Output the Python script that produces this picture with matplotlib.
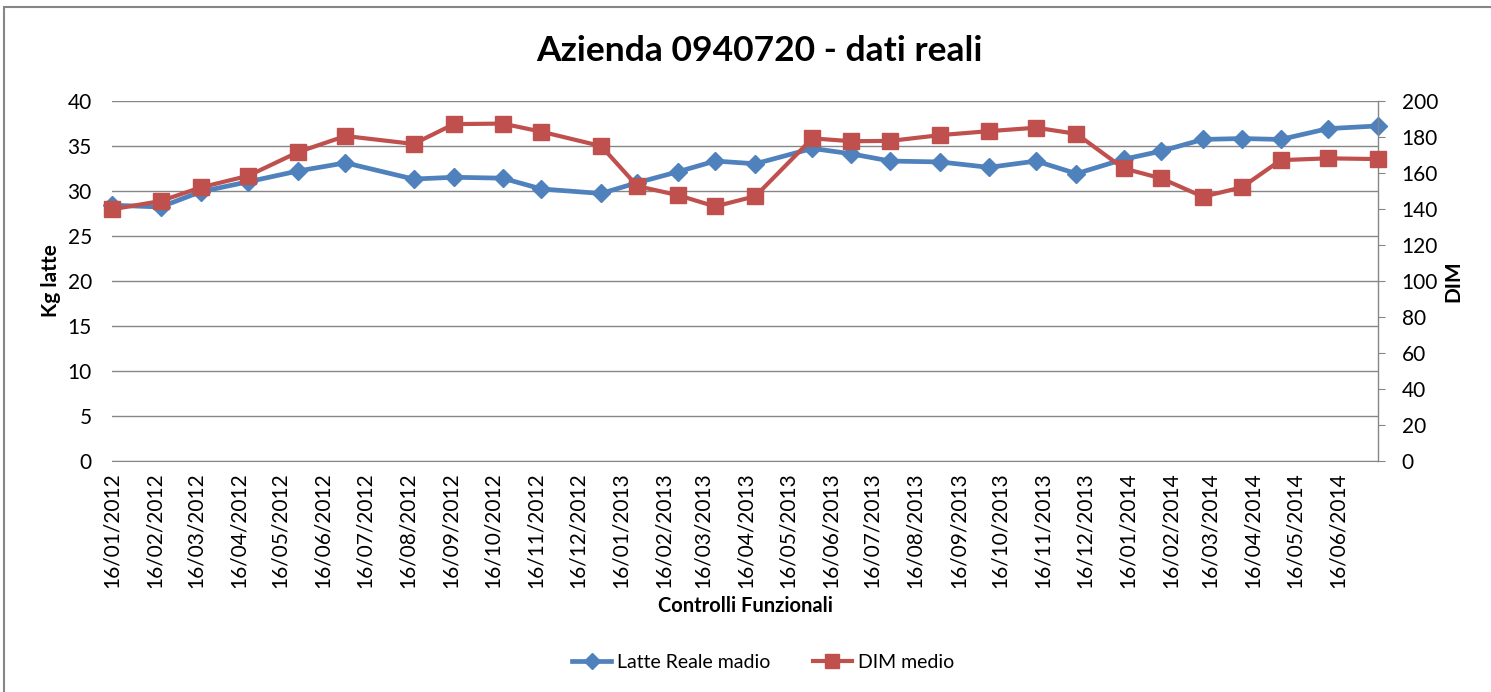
import matplotlib
matplotlib.use("Agg")
import matplotlib.pyplot as plt
from matplotlib.patches import Rectangle
from matplotlib.lines import Line2D
import datetime as dt

plt.rcParams['font.family'] = ['Lato', 'DejaVu Sans']

# ---------------- data ----------------
dates = ["2012-01-16", "2012-02-20", "2012-03-20", "2012-04-23", "2012-05-29",
         "2012-07-02", "2012-08-20", "2012-09-18", "2012-10-23", "2012-11-20",
         "2013-01-02", "2013-01-28", "2013-02-26", "2013-03-25", "2013-04-23",
         "2013-06-03", "2013-07-01", "2013-07-29", "2013-09-03", "2013-10-08",
         "2013-11-11", "2013-12-10", "2014-01-13", "2014-02-09", "2014-03-11",
         "2014-04-08", "2014-05-06", "2014-06-09", "2014-07-15"]
latte = [28.4, 28.2, 29.9, 31.0, 32.2, 33.1, 31.3, 31.5, 31.4, 30.2,
         29.7, 30.9, 32.1, 33.3, 33.0, 34.7, 34.1, 33.3, 33.2, 32.6,
         33.3, 31.9, 33.5, 34.4, 35.7, 35.8, 35.7, 36.9, 37.2]
dim = [139.7, 144.3, 151.9, 158.3, 171.5, 180.4, 176.0, 187.0, 187.3, 182.8,
       174.8, 152.6, 147.6, 141.3, 147.0, 179.1, 177.5, 177.7, 180.9, 183.1,
       185.0, 181.6, 162.4, 156.9, 146.7, 151.9, 167.0, 168.0, 167.6]
tick_labels = ["16/01/2012", "16/02/2012", "16/03/2012", "16/04/2012", "16/05/2012",
               "16/06/2012", "16/07/2012", "16/08/2012", "16/09/2012", "16/10/2012",
               "16/11/2012", "16/12/2012", "16/01/2013", "16/02/2013", "16/03/2013",
               "16/04/2013", "16/05/2013", "16/06/2013", "16/07/2013", "16/08/2013",
               "16/09/2013", "16/10/2013", "16/11/2013", "16/12/2013", "16/01/2014",
               "16/02/2014", "16/03/2014", "16/04/2014", "16/05/2014", "16/06/2014"]
left_ticks = [0, 5, 10, 15, 20, 25, 30, 35, 40]
right_ticks = [0, 20, 40, 60, 80, 100, 120, 140, 160, 180, 200]

title = "Azienda 0940720 - dati reali"
label_latte = "Latte Reale madio"
label_dim = "DIM medio"

BLUE = "#4F81BD"
RED = "#C0504D"
GRID = "#868686"

x = [dt.datetime.strptime(d, "%Y-%m-%d") for d in dates]
xt = [dt.datetime.strptime(t, "%d/%m/%Y") for t in tick_labels]

fig = plt.figure(figsize=(14.91, 6.92), dpi=100)

# outer chart border
fig.patches.append(Rectangle((4 / 1491, -0.05), 1.2, 1 - 7 / 692 + 0.05,
                             transform=fig.transFigure, fill=False,
                             edgecolor=GRID, linewidth=1.5, zorder=0))

ax = fig.add_axes([112 / 1491, 1 - 461 / 692, (1378 - 112) / 1491, (461 - 100.7) / 692])
ax2 = ax.twinx()

ax.set_ylim(0, 40)
ax.set_yticks(left_ticks)
ax.yaxis.grid(True, color=GRID, linewidth=1.0)
ax.set_axisbelow(True)
ax2.set_ylim(0, 200)
ax2.set_yticks(right_ticks)

ax.set_xlim(x[0], x[-1])
ax.set_xticks(xt)
ax.set_xticklabels(tick_labels, rotation=90, fontsize=15)

for s in ["left", "top", "right"]:
    ax.spines[s].set_visible(False)
    ax2.spines[s].set_visible(False)
ax.spines["bottom"].set_color(GRID)
ax2.spines["bottom"].set_visible(False)
ax2.spines["right"].set_visible(True)
ax2.spines["right"].set_color(GRID)
ax2.spines["right"].set_linewidth(1.0)

ax.tick_params(axis="y", length=0, pad=14.5, labelsize=15)
ax.tick_params(axis="x", length=0, pad=8, labelsize=15)
ax2.tick_params(axis="y", length=5, color=GRID, pad=12, labelsize=15)

ax.plot(x, latte, color=BLUE, linewidth=3.4, marker="D", markersize=9.5,
        zorder=3, clip_on=False)
ax2.plot(x, dim, color=RED, linewidth=3.0, marker="s", markersize=11.5,
         zorder=3, clip_on=False)

ax.set_ylabel("Kg latte", fontsize=15, fontweight="bold", labelpad=5)
ax2.set_ylabel("DIM", fontsize=15, fontweight="bold", labelpad=4)
ax.set_xlabel("Controlli Funzionali", fontsize=14.5, fontweight="bold", labelpad=6)

fig.text(759 / 1491, 1 - 51 / 692, title, ha="center", va="center",
         fontsize=25.5, fontweight="bold")

handles = [Line2D([], [], color=BLUE, linewidth=3.4, marker="D", markersize=8),
           Line2D([], [], color=RED, linewidth=3.0, marker="s", markersize=10)]
fig.legend(handles, [label_latte, label_dim], loc="center",
           bbox_to_anchor=(763 / 1491, 1 - 662 / 692), ncol=2, frameon=False,
           fontsize=14, handlelength=2.0, columnspacing=2.2, handletextpad=0.3)

fig.savefig("out.png", dpi=100)
